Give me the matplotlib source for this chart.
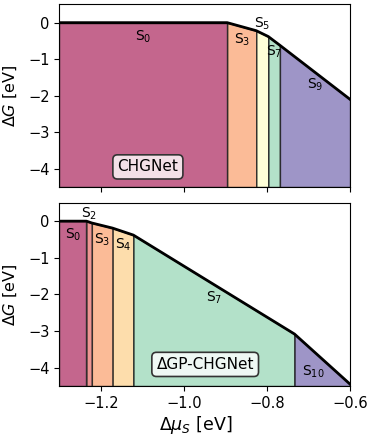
import matplotlib
matplotlib.use("Agg")
import matplotlib.pyplot as plt
import numpy as np

# ---- data ----
top_mu = [-1.3, -0.896, -0.826, -0.797, -0.769, -0.6]
top_G = [0.0, 0.0, -0.22, -0.38, -0.62, -2.10]
top_phases = [0, 3, 5, 7, 9]
top_title = "CHGNet"

bot_mu = [-1.3, -1.235, -1.222, -1.172, -1.122, -0.734, -0.6]
bot_G = [0.0, 0.0, -0.05, -0.19, -0.38, -3.08, -4.45]
bot_phases = [0, 2, 3, 4, 7, 10]
bot_title = "ΔGP-CHGNet"

# position of each phase along the Spectral colormap
phase_cpos = {0: 0.0, 2: 0.14, 3: 0.25, 4: 0.35, 5: 0.5, 7: 0.76, 9: 1.0, 10: 1.0}

xticks = [-1.2, -1.0, -0.8, -0.6]
yticks = [0, -1, -2, -3, -4]
xlim = (-1.3, -0.6)
ylim = (-4.5, 0.5)

cmap = plt.get_cmap("Spectral")

fig = plt.figure(figsize=(3.74, 4.40), dpi=100)
ax1 = fig.add_axes([0.159, 0.575, 0.777, 0.415])
ax2 = fig.add_axes([0.159, 0.1227, 0.777, 0.4163])


def draw(ax, mu, G, phases, title, label_dy, title_pos, label_pos_override):
    mu = np.asarray(mu)
    G = np.asarray(G)
    for i, ph in enumerate(phases):
        x = [mu[i], mu[i + 1]]
        y = [G[i], G[i + 1]]
        r, g, b, _ = cmap(phase_cpos[ph])
        ax.fill_between(x, y, ylim[0], facecolor=(r, g, b, 0.6),
                        edgecolor=(0.15, 0.15, 0.15, 0.85), linewidth=1.0)
        xm = 0.5 * (x[0] + x[1])
        ym = 0.5 * (y[0] + y[1]) + label_dy[i]
        if ph in label_pos_override:
            xm, ym = label_pos_override[ph]
        ax.text(xm, ym, f"S$_{{{ph}}}$", ha="center", va="center", fontsize=10)
    ax.plot(mu, G, color="black", linewidth=2, zorder=5)
    ax.text(title_pos[0], title_pos[1], title, ha="center", va="center",
            fontsize=11,
            bbox=dict(boxstyle="round,pad=0.3", facecolor=(1, 1, 1, 0.8),
                      edgecolor=(0.2, 0.2, 0.2), linewidth=1.2))
    ax.set_xlim(*xlim)
    ax.set_ylim(*ylim)
    ax.set_xticks(xticks)
    ax.set_yticks(yticks)
    ax.set_ylabel(r"$\Delta G$ [eV]", fontsize=11.5)
    ax.yaxis.set_label_coords(-0.14, 0.5)
    ax.tick_params(labelsize=10.5)


draw(ax1, top_mu, top_G, top_phases, top_title,
     [-0.38, -0.35, 0.3, -0.35, -0.38], (-1.087, -3.95),
     {5: (-0.812, -0.03), 7: (-0.783, -0.80), 9: (-0.684, -1.70)})
draw(ax2, bot_mu, bot_G, bot_phases, bot_title,
     [-0.38, 0.25, -0.38, -0.35, -0.37, 0.0], (-0.949, -3.91),
     {2: (-1.228, 0.2), 10: (-0.688, -4.1)})
ax1.tick_params(labelbottom=False)
ax2.set_xlabel(r"$\Delta\mu_S$ [eV]", fontsize=12.5)
ax2.xaxis.set_label_coords(0.47, -0.155)

fig.savefig("out.png", dpi=100)
